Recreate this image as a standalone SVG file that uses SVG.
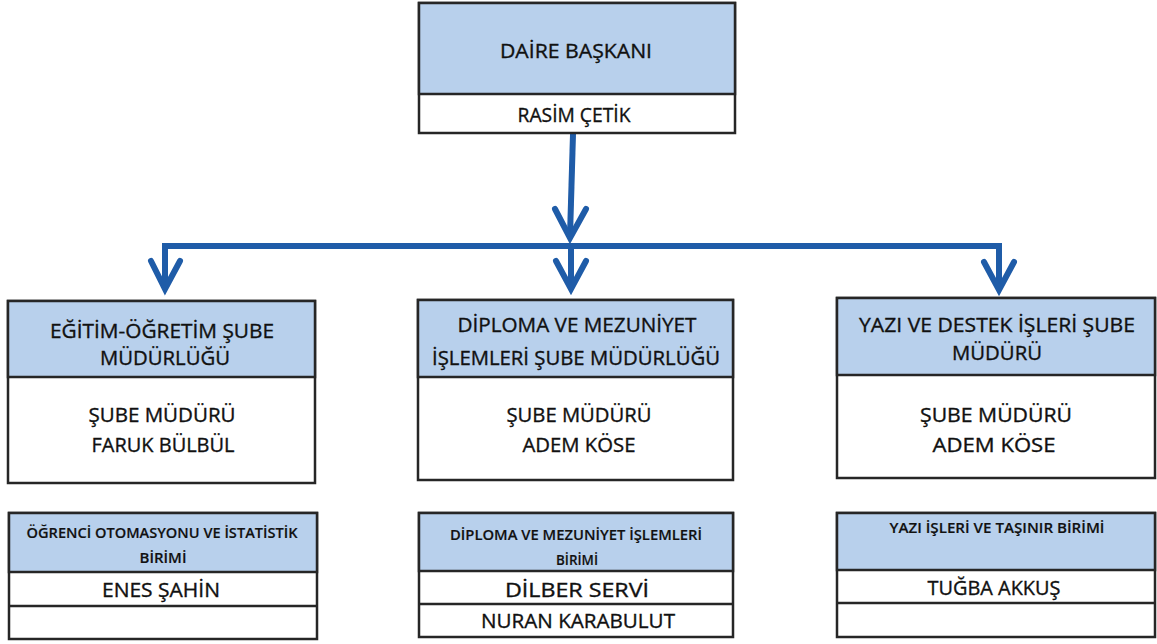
<svg xmlns="http://www.w3.org/2000/svg" width="1157" height="644" viewBox="0 0 1157 644">
<style>
.bg{fill:#ffffff}
.box{fill:#ffffff;stroke:#262626;stroke-width:2.5}
.head{fill:#b8d0ec;stroke:#262626;stroke-width:2.5}
.div{stroke:#262626;stroke-width:2.5;fill:none}
.t{font-family:"Open Sans","Liberation Sans",sans-serif;fill:#111111;text-anchor:middle;stroke:#111111;stroke-width:0.35}
.l{font-size:20px}
.s{font-size:13.5px;font-weight:600;stroke-width:0.15}
.ln{stroke:#1f5ca8;stroke-width:6;fill:none;stroke-linecap:butt}
.ah{stroke:#1f5ca8;stroke-width:6;fill:none;stroke-linejoin:miter;stroke-linecap:round}
</style>
<rect class="bg" x="0" y="0" width="1157" height="644"/>

<g id="connectors">
  <path class="ln" d="M573,134 L570,236"/>
  <path class="ah" d="M555,209 L570,238 L586,209"/>
  <path class="ln" d="M162,246 L1002,246"/>
  <path class="ln" d="M165,243 L165,288"/>
  <path class="ah" d="M151,261 L165,289 L180,261"/>
  <path class="ln" d="M571,249 L571,288"/>
  <path class="ah" d="M556,261 L571,289 L586,261"/>
  <path class="ln" d="M999,243 L999,288"/>
  <path class="ah" d="M984,262 L999,290 L1014,262"/>
</g>

<g id="daire-baskani">
  <rect class="box" x="419" y="3" width="316" height="130"/>
  <rect class="head" x="419" y="3" width="316" height="91"/>
  <text class="t l" x="576" y="58" textLength="152" lengthAdjust="spacingAndGlyphs">DAİRE BAŞKANI</text>
  <text class="t l" x="574" y="122" textLength="113" lengthAdjust="spacingAndGlyphs">RASİM ÇETİK</text>
</g>

<g id="egitim-ogretim">
  <rect class="box" x="8" y="301" width="307" height="182"/>
  <rect class="head" x="8" y="301" width="307" height="76"/>
  <text class="t l" x="162" y="338" textLength="224" lengthAdjust="spacingAndGlyphs">EĞİTİM-ÖĞRETİM ŞUBE</text>
  <text class="t l" x="165" y="365" textLength="130" lengthAdjust="spacingAndGlyphs">MÜDÜRLÜĞÜ</text>
  <text class="t l" x="162" y="422" textLength="147" lengthAdjust="spacingAndGlyphs">ŞUBE MÜDÜRÜ</text>
  <text class="t l" x="163" y="452" textLength="143" lengthAdjust="spacingAndGlyphs">FARUK BÜLBÜL</text>
</g>

<g id="diploma-mezuniyet">
  <rect class="box" x="418" y="300" width="315" height="180"/>
  <rect class="head" x="418" y="300" width="315" height="77"/>
  <text class="t l" x="577" y="332" textLength="239" lengthAdjust="spacingAndGlyphs">DİPLOMA VE MEZUNİYET</text>
  <text class="t l" x="576" y="365" textLength="288" lengthAdjust="spacingAndGlyphs">İŞLEMLERİ ŞUBE MÜDÜRLÜĞÜ</text>
  <text class="t l" x="579" y="422" textLength="145" lengthAdjust="spacingAndGlyphs">ŞUBE MÜDÜRÜ</text>
  <text class="t l" x="579" y="452" textLength="113" lengthAdjust="spacingAndGlyphs">ADEM KÖSE</text>
</g>

<g id="yazi-destek">
  <rect class="box" x="837" y="298" width="318" height="180"/>
  <rect class="head" x="837" y="298" width="318" height="77"/>
  <text class="t l" x="997" y="332" textLength="276" lengthAdjust="spacingAndGlyphs">YAZI VE DESTEK İŞLERİ ŞUBE</text>
  <text class="t l" x="997" y="360" textLength="90" lengthAdjust="spacingAndGlyphs">MÜDÜRÜ</text>
  <text class="t l" x="996" y="422" textLength="152" lengthAdjust="spacingAndGlyphs">ŞUBE MÜDÜRÜ</text>
  <text class="t l" x="994" y="452" textLength="123" lengthAdjust="spacingAndGlyphs">ADEM KÖSE</text>
</g>

<g id="ogrenci-otomasyonu">
  <rect class="box" x="9" y="513" width="308" height="126"/>
  <rect class="head" x="9" y="513" width="308" height="59"/>
  <path class="div" d="M9,606 L317,606"/>
  <text class="t s" x="162" y="538" textLength="271" lengthAdjust="spacingAndGlyphs">ÖĞRENCİ OTOMASYONU VE İSTATİSTİK</text>
  <text class="t s" x="163" y="563" textLength="47" lengthAdjust="spacingAndGlyphs">BİRİMİ</text>
  <text class="t l" x="161" y="597" textLength="118" lengthAdjust="spacingAndGlyphs">ENES ŞAHİN</text>
</g>

<g id="diploma-birimi">
  <rect class="box" x="419" y="513" width="314" height="124"/>
  <rect class="head" x="419" y="513" width="314" height="58"/>
  <path class="div" d="M419,604 L733,604"/>
  <text class="t s" x="576" y="540" textLength="252" lengthAdjust="spacingAndGlyphs">DİPLOMA VE MEZUNİYET İŞLEMLERİ</text>
  <text class="t s" x="577" y="565" textLength="42" lengthAdjust="spacingAndGlyphs">BİRİMİ</text>
  <text class="t l" x="577" y="597" textLength="144" lengthAdjust="spacingAndGlyphs">DİLBER SERVİ</text>
  <text class="t l" x="578" y="628" textLength="194" lengthAdjust="spacingAndGlyphs">NURAN KARABULUT</text>
</g>

<g id="yazi-isleri-tasinir">
  <rect class="box" x="837" y="513" width="318" height="124"/>
  <rect class="head" x="837" y="513" width="318" height="57"/>
  <path class="div" d="M837,603 L1155,603"/>
  <text class="t s" x="997" y="533" textLength="215" lengthAdjust="spacingAndGlyphs">YAZI İŞLERİ VE TAŞINIR BİRİMİ</text>
  <text class="t l" x="994" y="595" textLength="133" lengthAdjust="spacingAndGlyphs">TUĞBA AKKUŞ</text>
</g>
</svg>
